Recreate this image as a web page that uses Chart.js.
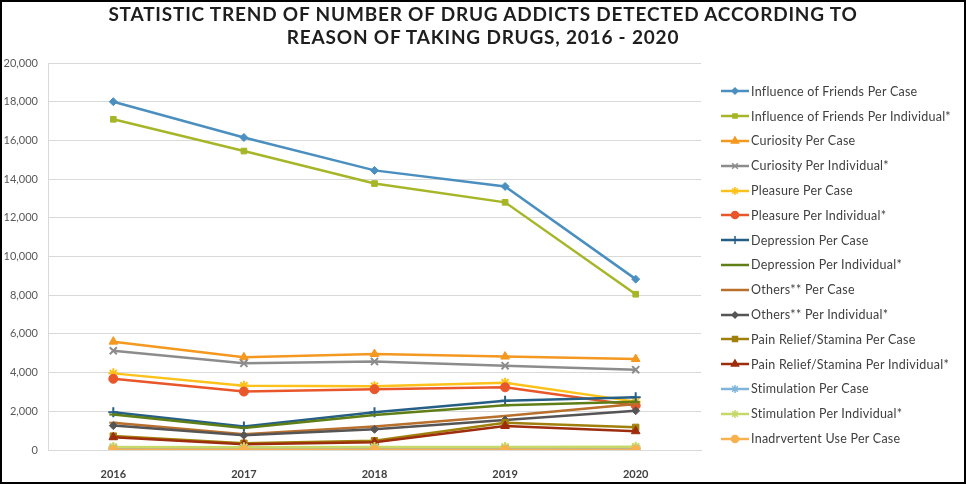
<!DOCTYPE html>
<html>
<head>
<meta charset="utf-8">
<script src="https://cdn.jsdelivr.net/npm/chart.js@4/dist/chart.umd.min.js"></script>
<style>
    body { margin: 0; background: #fff; }
    #wrap { position: relative; width: 966px; height: 484px; font-family: Lato, "Noto Sans", sans-serif; }
    #frame { position: absolute; left: 0; top: 0; width: 966px; height: 484px; box-sizing: border-box; border: 2px solid #000; pointer-events: none; }
    #title { position: absolute; left: 0; top: 2px; width: 966px; text-align: center; font-weight: bold; font-size: 19px; line-height: 23px; color: #1e1e1e; letter-spacing: 0.8px; }
    #legend { position: absolute; left: 720px; top: 79px; }
    .item { height: 24.8px; display: flex; align-items: center; font-size: 12.5px; letter-spacing: 0.25px; color: #404040; white-space: nowrap; }
    .item canvas { margin-right: 1px; }
</style>
</head>
<body>
<div id="wrap">
    <canvas id="trendChart" width="966" height="484"></canvas>
    <div id="title">STATISTIC TREND OF NUMBER OF DRUG ADDICTS DETECTED ACCORDING TO<br>REASON OF TAKING DRUGS, 2016 - 2020</div>
    <div id="legend"></div>
    <div id="frame"></div>
</div>
<script>
const years = ["2016", "2017", "2018", "2019", "2020"];
const yTicks = [0, 2000, 4000, 6000, 8000, 10000, 12000, 14000, 16000, 18000, 20000];

const friendsCase = [18000, 16150, 14450, 13620, 8830];
const friendsIndividual = [17090, 15450, 13770, 12800, 8050];
const curiosityCase = [5600, 4790, 4960, 4830, 4700];
const curiosityIndividual = [5130, 4480, 4570, 4360, 4150];
const pleasureCase = [3960, 3320, 3300, 3480, 2500];
const pleasureIndividual = [3680, 3020, 3140, 3240, 2300];
const depressionCase = [1950, 1210, 1950, 2550, 2720];
const depressionIndividual = [1830, 1140, 1810, 2310, 2490];
const othersCase = [1410, 810, 1210, 1760, 2380];
const othersIndividual = [1260, 760, 1070, 1550, 2030];
const painCase = [720, 350, 480, 1410, 1170];
const painIndividual = [660, 300, 400, 1240, 970];
const stimulationCase = [90, 60, 70, 80, 80];
const stimulationIndividual = [160, 140, 150, 160, 170];
const inadvertentCase = [10, 10, 10, 10, 10];

const series = [
    { label: "Influence of Friends Per Case", data: friendsCase, color: "#4a8fbf", point: "rectRot", r: 4 },
    { label: "Influence of Friends Per Individual*", data: friendsIndividual, color: "#a6b628", point: "rect", r: 4 },
    { label: "Curiosity Per Case", data: curiosityCase, color: "#f4981f", point: "triangle", r: 5 },
    { label: "Curiosity Per Individual*", data: curiosityIndividual, color: "#8c8c8c", point: "crossRot", r: 5 },
    { label: "Pleasure Per Case", data: pleasureCase, color: "#fcc21b", point: "star", r: 5 },
    { label: "Pleasure Per Individual*", data: pleasureIndividual, color: "#e8562a", point: "circle", r: 4.5 },
    { label: "Depression Per Case", data: depressionCase, color: "#265f85", point: "cross", r: 5 },
    { label: "Depression Per Individual*", data: depressionIndividual, color: "#5f7f16", point: "line", r: 4 },
    { label: "Others** Per Case", data: othersCase, color: "#b8702c", point: "line", r: 4 },
    { label: "Others** Per Individual*", data: othersIndividual, color: "#555555", point: "rectRot", r: 4 },
    { label: "Pain Relief/Stamina Per Case", data: painCase, color: "#a0800c", point: "rect", r: 4.5 },
    { label: "Pain Relief/Stamina Per Individual*", data: painIndividual, color: "#9e2d0e", point: "triangle", r: 5 },
    { label: "Stimulation Per Case", data: stimulationCase, color: "#80b5db", point: "star", r: 5 },
    { label: "Stimulation Per Individual*", data: stimulationIndividual, color: "#c6d86a", point: "star", r: 5 },
    { label: "Inadrvertent Use Per Case", data: inadvertentCase, color: "#f8b14d", point: "circle", r: 4.5 }
];

const ctx = document.getElementById("trendChart");

const chart = new Chart(ctx, {
    type: "line",
    data: {
        labels: years,
        datasets: series.map((s, i) => ({
            label: s.label,
            data: s.data,
            borderColor: s.color,
            backgroundColor: s.color,
            borderWidth: 2.5,
            pointStyle: s.point,
            pointRadius: s.r,
            pointBorderWidth: s.point === "line" || s.point.includes("cross") || s.point === "star" ? 2 : 1,
            tension: 0,
            order: series.length - i
        }))
    },
    options: {
        responsive: false,
        animation: false,
        layout: { padding: { top: 63, right: 265, bottom: 0, left: 0 } },
        plugins: {
            legend: { display: false },
            title: { display: false },
            tooltip: { enabled: false }
        },
        scales: {
            x: {
                offset: true,
                grid: { display: false },
                border: { color: "#d9d9d9" },
                ticks: { color: "#404040", padding: 10, font: { family: "Lato", size: 11, weight: "bold" } },
                afterFit(scale) { scale.height = 34; }
            },
            y: {
                min: 0,
                max: 20000,
                afterBuildTicks(scale) { scale.ticks = yTicks.map(v => ({ value: v })); },
                grid: { color: "#d9d9d9", drawTicks: false },
                border: { color: "#d9d9d9" },
                ticks: {
                    color: "#595959",
                    padding: 10,
                    font: { family: "Lato", size: 11 },
                    callback: v => v.toLocaleString("en-US")
                },
                afterFit(scale) { scale.width = 48; }
            }
        }
    }
});


function buildLegend() {
    const box = document.getElementById("legend");
    series.forEach(s => {
        const row = document.createElement("div");
        row.className = "item";
        const c = document.createElement("canvas");
        c.width = 30;
        c.height = 14;
        const g = c.getContext("2d");
        g.strokeStyle = s.color;
        g.lineWidth = 2.5;
        g.beginPath();
        g.moveTo(1, 7);
        g.lineTo(29, 7);
        g.stroke();
        g.fillStyle = s.color;
        g.lineWidth = 1.5;
        Chart.helpers.drawPoint(g, { pointStyle: s.point, radius: s.r - 1, rotation: 0, borderWidth: 1.5 }, 15, 7);
        row.appendChild(c);
        const t = document.createElement("span");
        t.innerText = s.label;
        row.appendChild(t);
        box.appendChild(row);
    });
}

buildLegend();
</script>
</body>
</html>
